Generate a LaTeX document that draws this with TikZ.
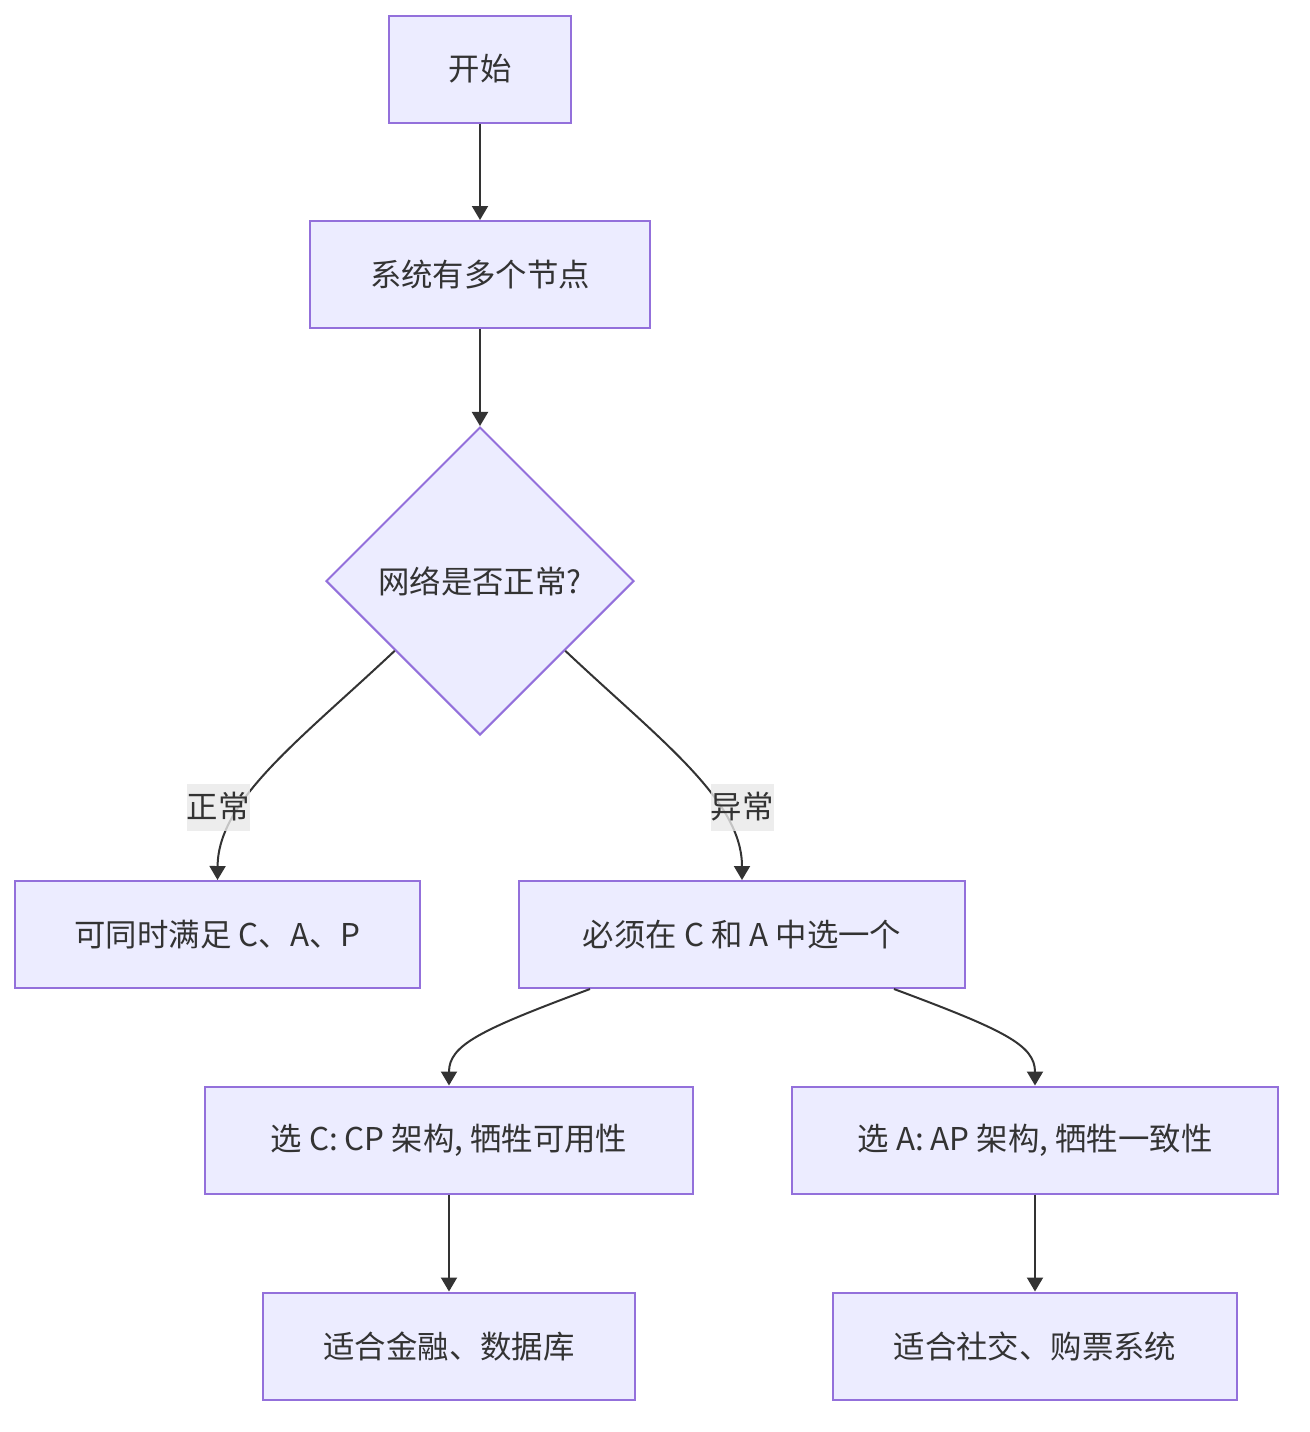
\documentclass[tikz,border=0pt]{standalone}
\usepackage{fontspec}
\setmainfont{Noto Sans CJK SC}
\usetikzlibrary{shapes.geometric,arrows.meta,calc}
\definecolor{nodefill}{HTML}{ECECFF}
\definecolor{nodeline}{HTML}{9370DB}
\definecolor{edgecol}{HTML}{333333}
\definecolor{lblbg}{HTML}{E8E8E8}
\begin{document}
\begin{tikzpicture}[x=0.5pt,y=-0.5pt,
  font=\fontsize{15.7pt}{18pt}\selectfont,
  box/.style={draw=nodeline,fill=nodefill,line width=1pt,text=edgecol,inner sep=0pt,minimum height=53.5pt},
  dec/.style={diamond,aspect=1,draw=nodeline,fill=nodefill,line width=1pt,text=edgecol,inner sep=0pt,minimum width=154pt,minimum height=154pt},
  edge/.style={draw=edgecol,line width=1pt,-{Triangle[length=7pt,width=8pt]}},
  lbl/.style={fill=lblbg,fill opacity=0.8,text opacity=1,text=edgecol,inner sep=0pt,minimum width=31.5pt,minimum height=23.5pt}]
\useasboundingbox (0,0) rectangle (1310,1432);
\node[box,minimum width=91pt] (start) at (480,69) {开始};
\node[box,minimum width=170pt] (sys) at (480,274.5) {系统有多个节点};
\node[dec] (dia) at (480,581) {网络是否正常?};
\node[box,minimum width=202.5pt] (ok) at (217.5,934.5) {可同时满足 C、A、P};
\node[box,minimum width=223pt] (must) at (742,934.5) {必须在 C 和 A 中选一个};
\node[box,minimum width=244pt] (cp) at (449,1140) {选 C: CP 架构, 牺牲可用性};
\node[box,minimum width=243pt] (ap) at (1035,1140) {选 A: AP 架构, 牺牲一致性};
\node[box,minimum width=186pt] (fin) at (449,1346) {适合金融、数据库};
\node[box,minimum width=202pt] (soc) at (1035,1346) {适合社交、购票系统};
\coordinate (dl) at ($(dia.south west)!0.1!(dia.west)$);
\coordinate (dr) at ($(dia.south east)!0.1!(dia.east)$);
\draw[edge] (start) -- (sys);
\draw[edge] (sys) -- (dia);
\draw[edge] (dl) .. controls (300,740) and (218,800) .. (ok.north);
\draw[edge] (dr) .. controls (660,740) and (742,800) .. (must.north);
\draw[edge] ([xshift=-76pt]must.south) .. controls (480,1030) and (449,1045) .. (cp.north);
\draw[edge] ([xshift=76pt]must.south) .. controls (1004,1030) and (1035,1045) .. (ap.north);
\draw[edge] (cp) -- (fin);
\draw[edge] (ap) -- (soc);
\node[lbl] (l1) at (218,807) {正常};
\node[lbl] (l2) at (742,807) {异常};
\end{tikzpicture}
\end{document}
